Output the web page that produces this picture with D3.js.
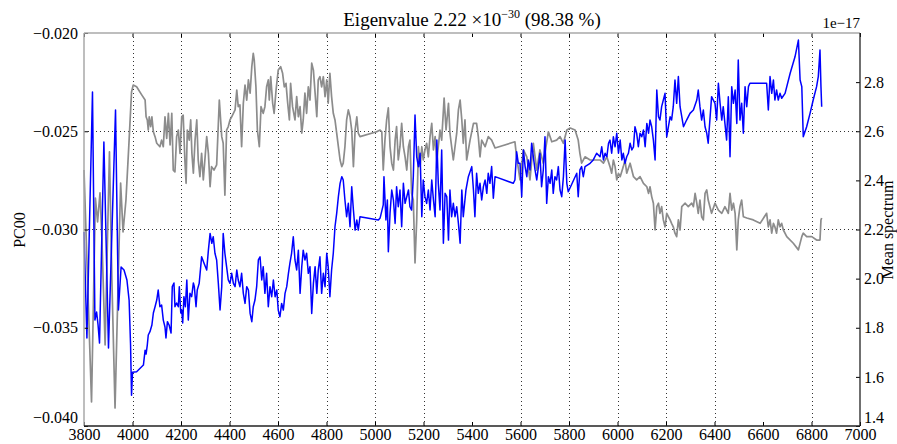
<!DOCTYPE html>
<html>
<head>
<meta charset="utf-8">
<script src="https://cdn.jsdelivr.net/npm/d3@7"></script>
<style>
  body { margin: 0; background: #fff; }
  svg { display: block; }
  text { font-family: "Liberation Serif", "DejaVu Serif", serif; fill: #000; }
</style>
</head>
<body>
<svg id="chart" width="897" height="444"></svg>
<script>
// Axis ticks and grid positions
const waveTicks = [3800, 4000, 4200, 4400, 4600, 4800, 5000, 5200, 5400, 5600, 5800, 6000, 6200, 6400, 6600, 6800, 7000];
const waveGrid = [4000, 4200, 4400, 4600, 4800, 5000, 5200, 5600, 5800, 6000, 6200, 6400, 6800];
const pcTicks = [-0.040, -0.035, -0.030, -0.025, -0.020];
const pcGrid = [-0.030, -0.025];
const meanTicks = [1.4, 1.6, 1.8, 2.0, 2.2, 2.4, 2.6, 2.8];

// Principal component PC00 against wavelength (Angstrom)
const pc00 = [
  [3800,-0.03013],[3812,-0.03552],[3835,-0.02300],[3845,-0.03461],[3852,-0.03420],[3858,-0.03486],[3864,-0.03578],
  [3882,-0.02555],[3901,-0.03603],[3930,-0.02392],[3942,-0.03410],[3953,-0.03191],[3965,-0.03206],[3977,-0.03257],
  [3986,-0.03359],[3992,-0.03588],[3996,-0.03843],[4000,-0.03726],
  [4017,-0.03724],[4045,-0.03690],[4052,-0.03614],[4056,-0.03634],[4061,-0.03588],[4065,-0.03537],[4072,-0.03520],
  [4080,-0.03486],[4086,-0.03425],[4093,-0.03393],[4100,-0.03359],[4106,-0.03308],[4113,-0.03393],[4120,-0.03384],
  [4127,-0.03461],[4134,-0.03496],[4138,-0.03552],[4144,-0.03469],[4151,-0.03486],[4159,-0.03527],[4164,-0.03291],
  [4171,-0.03272],[4175,-0.03393],[4182,-0.03374],[4189,-0.03393],[4193,-0.03291],[4199,-0.03425],[4203,-0.03410],
  [4207,-0.03476],[4212,-0.03342],[4218,-0.03393],[4224,-0.03257],[4230,-0.03461],[4237,-0.03325],[4244,-0.03342],
  [4251,-0.03272],[4255,-0.03291],[4262,-0.03393],[4267,-0.03308],[4275,-0.03274],[4285,-0.03139],[4295,-0.03172],
  [4306,-0.03206],[4313,-0.03105],[4320,-0.03020],[4327,-0.03070],[4333,-0.03037],[4340,-0.03121],[4347,-0.03155],
  [4354,-0.03274],[4361,-0.03410],[4368,-0.03291],[4374,-0.03020],[4381,-0.03121],[4388,-0.03189],[4395,-0.03257],
  [4402,-0.03274],[4409,-0.03223],[4416,-0.03274],[4423,-0.03291],[4430,-0.03206],[4436,-0.03257],[4443,-0.03291],
  [4450,-0.03223],[4457,-0.03325],[4464,-0.03376],[4471,-0.03291],[4478,-0.03308],[4485,-0.03427],[4492,-0.03469],
  [4498,-0.03393],[4505,-0.03359],[4512,-0.03291],[4519,-0.03155],[4526,-0.03139],[4533,-0.03257],[4539,-0.03189],
  [4546,-0.03325],[4553,-0.03223],[4560,-0.03393],[4567,-0.03291],[4574,-0.03342],[4581,-0.03257],[4588,-0.03342],
  [4595,-0.03308],[4601,-0.03410],[4608,-0.03444],[4615,-0.03376],[4622,-0.03410],[4629,-0.03325],[4636,-0.03291],
  [4643,-0.03223],[4649,-0.03172],[4656,-0.03121],[4663,-0.03037],[4670,-0.03155],[4677,-0.03206],[4684,-0.03105],
  [4691,-0.03325],[4698,-0.03189],[4704,-0.03105],[4711,-0.03155],[4718,-0.03121],[4725,-0.03223],[4732,-0.03189],
  [4739,-0.03427],[4746,-0.03274],[4753,-0.03189],[4760,-0.03325],[4766,-0.03206],[4773,-0.03139],[4780,-0.03325],
  [4787,-0.03223],[4794,-0.03291],[4801,-0.03121],[4807,-0.03189],[4814,-0.03342],[4821,-0.03206],[4828,-0.03121],
  [4835,-0.02986],[4842,-0.02918],[4849,-0.02833],[4856,-0.02765],[4863,-0.02731],[4869,-0.02748],[4876,-0.02850],
  [4883,-0.02935],[4890,-0.02867],[4897,-0.02986],[4904,-0.02782],[4911,-0.02901],[4918,-0.03003],[4925,-0.02952],
  [4931,-0.03003],[4938,-0.02935],
  [5014,-0.02952],[5021,-0.02942],[5034,-0.02875],[5037,-0.02731],[5045,-0.02952],[5051,-0.02850],[5055,-0.03113],
  [5062,-0.02916],[5069,-0.02799],[5076,-0.02850],[5083,-0.02969],[5089,-0.02782],[5096,-0.02884],[5103,-0.02799],
  [5110,-0.02986],[5117,-0.02765],[5124,-0.02867],[5131,-0.02833],[5138,-0.02799],[5144,-0.02884],[5151,-0.02901],
  [5158,-0.02731],[5165,-0.02417],[5172,-0.02630],[5179,-0.02680],[5186,-0.02612],[5193,-0.02935],[5199,-0.02748],
  [5206,-0.02833],[5213,-0.02867],[5220,-0.02799],[5227,-0.02901],[5234,-0.02748],[5241,-0.02850],[5248,-0.02935],
  [5255,-0.02545],[5261,-0.02765],[5268,-0.02901],[5275,-0.02595],[5282,-0.03070],[5289,-0.02816],[5296,-0.02833],
  [5303,-0.03054],[5309,-0.02799],[5316,-0.02935],[5323,-0.02867],[5330,-0.02935],[5337,-0.02884],[5344,-0.02969],
  [5351,-0.03070],[5358,-0.02799],[5364,-0.02935],[5375,-0.02799],[5385,-0.02731],[5399,-0.02680],[5406,-0.02799],
  [5412,-0.02935],[5419,-0.02714],[5426,-0.02816],[5433,-0.02765],[5440,-0.02850],[5447,-0.02782],[5454,-0.02748],
  [5461,-0.02816],[5467,-0.02714],[5474,-0.02765],[5481,-0.02680],[5488,-0.02841],[5495,-0.02731],
  [5570,-0.02765],[5577,-0.02748],[5584,-0.02604],[5591,-0.02663],[5598,-0.02663],[5605,-0.02833],[5612,-0.02595],
  [5619,-0.02680],[5626,-0.02731],[5632,-0.02646],[5639,-0.02697],[5646,-0.02561],[5653,-0.02630],[5660,-0.02697],
  [5667,-0.02748],[5674,-0.02680],[5680,-0.02612],[5687,-0.02782],[5694,-0.02697],[5701,-0.02528],[5708,-0.02867],
  [5715,-0.02731],[5722,-0.02765],[5729,-0.02697],[5735,-0.02816],[5742,-0.02731],[5749,-0.02748],[5756,-0.02680],
  [5763,-0.02799],[5770,-0.02833],[5777,-0.02731],[5784,-0.02545],[5791,-0.02765],[5797,-0.02808],
  [5832,-0.02714],[5838,-0.02833],[5845,-0.02697],[5852,-0.02680],[5859,-0.02731],[5866,-0.02680],[5887,-0.02663],
  [5900,-0.02646],[5914,-0.02612],[5928,-0.02630],[5935,-0.02579],[5942,-0.02646],[5949,-0.02612],[5956,-0.02630],
  [5963,-0.02561],[5969,-0.02545],[5976,-0.02612],[5983,-0.02528],[5990,-0.02579],[5997,-0.02510],[6004,-0.02612],
  [6011,-0.02545],[6018,-0.02646],[6024,-0.02612],[6031,-0.02663],[6038,-0.02630],[6045,-0.02612],[6052,-0.02561],
  [6059,-0.02595],[6066,-0.02579],[6072,-0.02477],[6079,-0.02510],[6086,-0.02579],[6093,-0.02510],[6100,-0.02528],
  [6107,-0.02494],[6114,-0.02579],[6121,-0.02460],[6128,-0.02510],[6134,-0.02443],[6141,-0.02477],[6148,-0.02545],
  [6155,-0.02646],[6162,-0.02290],[6169,-0.02426],[6175,-0.02443],[6182,-0.02375],[6189,-0.02341],[6196,-0.02307],
  [6203,-0.02528],[6210,-0.02477],[6217,-0.02426],[6223,-0.02443],[6230,-0.02375],[6237,-0.02239],[6244,-0.02358],
  [6251,-0.02222],[6258,-0.02375],[6272,-0.02477],[6285,-0.02443],[6299,-0.02409],[6313,-0.02392],[6327,-0.02341],
  [6333,-0.02290],[6340,-0.02375],[6347,-0.02443],[6354,-0.02392],[6361,-0.02477],[6368,-0.02510],[6374,-0.02561],
  [6381,-0.02443],[6388,-0.02324],[6395,-0.02341],[6402,-0.02358],[6409,-0.02443],[6416,-0.02256],[6423,-0.02358],
  [6430,-0.02443],[6436,-0.02375],[6443,-0.02460],[6450,-0.02545],[6457,-0.02324],[6464,-0.02630],[6471,-0.02273],
  [6478,-0.02358],[6485,-0.02290],[6492,-0.02460],[6498,-0.02137],[6505,-0.02443],[6512,-0.02358],[6519,-0.02510],
  [6526,-0.02273],[6533,-0.02375],[6540,-0.02273],[6546,-0.02256],
  [6615,-0.02256],[6622,-0.02392],[6629,-0.02222],[6636,-0.02307],[6643,-0.02239],[6649,-0.02341],[6656,-0.02290],
  [6663,-0.02341],[6670,-0.02307],[6677,-0.02332],[6691,-0.02307],[6712,-0.02205],[6732,-0.02121],[6746,-0.02036],
  [6753,-0.02239],[6760,-0.02273],[6766,-0.02528],[6780,-0.02477],[6794,-0.02409],[6807,-0.02341],[6821,-0.02273],
  [6828,-0.02222],[6835,-0.02087],[6839,-0.02273],[6842,-0.02375]
];

// Mean spectrum (units of 1e-17) against wavelength
const meanSpectrum = [
  [3800,2.442],[3831,1.498],[3847,2.328],[3856,2.231],[3866,2.349],[3874,2.157],[3887,1.730],[3905,2.516],
  [3915,1.994],[3928,1.473],[3951,2.389],[3961,2.190],[3973,2.320],[3986,2.564],[3996,2.760],[4003,2.788],
  [4017,2.781],[4038,2.748],[4052,2.727],[4056,2.659],[4061,2.646],[4065,2.605],[4069,2.659],[4075,2.619],
  [4080,2.659],[4086,2.598],[4093,2.578],[4100,2.551],[4113,2.537],[4120,2.564],[4127,2.537],[4134,2.659],
  [4141,2.571],[4148,2.673],[4155,2.544],[4162,2.673],[4168,2.442],[4175,2.435],[4182,2.578],[4189,2.605],
  [4196,2.510],[4203,2.659],[4209,2.666],[4216,2.483],[4221,2.388],[4226,2.605],[4234,2.564],[4240,2.646],
  [4245,2.510],[4251,2.429],[4258,2.564],[4265,2.646],[4271,2.483],[4278,2.415],[4285,2.510],[4292,2.402],
  [4306,2.578],[4313,2.510],[4320,2.374],[4326,2.456],[4336,2.442],[4347,2.463],[4358,2.727],[4368,2.578],
  [4374,2.551],[4381,2.340],[4388,2.605],[4395,2.619],[4402,2.646],[4409,2.659],[4416,2.673],[4423,2.687],
  [4430,2.768],[4436,2.700],[4443,2.707],[4450,2.537],[4457,2.714],[4464,2.788],[4471,2.727],[4478,2.809],
  [4485,2.755],[4492,2.863],[4498,2.917],[4502,2.890],[4509,2.781],[4515,2.605],[4523,2.537],[4530,2.700],
  [4539,2.673],[4546,2.700],[4553,2.781],[4560,2.809],[4564,2.727],[4570,2.822],[4578,2.714],[4584,2.673],
  [4592,2.768],[4601,2.849],[4611,2.863],[4619,2.836],[4626,2.781],[4633,2.795],[4640,2.714],[4647,2.646],
  [4652,2.795],[4660,2.700],[4670,2.646],[4677,2.741],[4684,2.659],[4691,2.700],[4698,2.592],[4704,2.646],
  [4711,2.755],[4718,2.673],[4725,2.781],[4732,2.727],[4739,2.877],[4746,2.849],[4753,2.755],[4760,2.659],
  [4766,2.809],[4773,2.822],[4780,2.781],[4787,2.822],[4794,2.741],[4801,2.809],[4807,2.714],[4814,2.836],
  [4821,2.741],[4828,2.673],[4835,2.646],[4842,2.592],[4849,2.537],[4856,2.483],[4863,2.456],[4869,2.470],
  [4876,2.537],[4883,2.646],[4890,2.687],[4897,2.659],[4904,2.605],[4911,2.456],[4918,2.605],[4925,2.659],
  [4931,2.592],[4938,2.578],
  [5007,2.598],[5021,2.605],[5028,2.598],[5034,2.442],[5041,2.564],[5048,2.646],[5055,2.695],[5062,2.537],
  [5069,2.470],[5076,2.442],[5083,2.564],[5089,2.619],[5096,2.483],[5103,2.537],[5110,2.632],[5117,2.537],
  [5124,2.496],[5131,2.442],[5138,2.537],[5144,2.564],[5151,2.347],[5158,2.320],[5165,2.064],[5172,2.239],
  [5179,2.537],[5186,2.456],[5193,2.537],[5199,2.483],[5206,2.524],[5213,2.551],[5220,2.496],[5227,2.578],
  [5234,2.632],[5241,2.524],[5248,2.578],[5255,2.483],[5261,2.537],[5268,2.605],[5275,2.564],[5285,2.735],
  [5293,2.605],[5303,2.714],[5309,2.592],[5323,2.483],[5337,2.592],[5344,2.687],[5351,2.727],[5358,2.646],
  [5364,2.551],[5371,2.646],[5378,2.483],[5392,2.564],[5406,2.632],[5419,2.632],[5426,2.578],[5433,2.496],
  [5440,2.564],[5454,2.537],[5467,2.578],[5481,2.564],[5495,2.532],
  [5577,2.557],[5584,2.496],[5598,2.402],[5612,2.524],[5626,2.496],[5639,2.402],[5653,2.551],[5667,2.442],
  [5680,2.524],[5694,2.470],[5715,2.598],[5729,2.557],[5749,2.564],[5763,2.578],[5777,2.551],[5791,2.605],
  [5805,2.613],[5825,2.605],[5838,2.564],[5845,2.510],[5852,2.470],[5866,2.496],[5887,2.483],[5907,2.483],
  [5928,2.483],[5942,2.470],[5956,2.496],[5969,2.456],[5976,2.429],[5983,2.483],[5990,2.456],[5997,2.402],
  [6004,2.429],[6011,2.415],[6024,2.456],[6031,2.483],[6038,2.429],[6052,2.470],[6066,2.415],[6079,2.402],
  [6093,2.415],[6107,2.388],[6121,2.374],[6128,2.347],[6134,2.374],[6141,2.334],[6148,2.307],[6155,2.198],
  [6162,2.293],[6169,2.307],[6175,2.266],[6182,2.293],[6189,2.239],[6196,2.211],[6203,2.266],[6210,2.252],
  [6217,2.239],[6223,2.225],[6230,2.211],[6237,2.185],[6244,2.171],[6251,2.239],[6258,2.198],[6265,2.293],
  [6279,2.307],[6292,2.293],[6306,2.307],[6313,2.293],[6320,2.347],[6327,2.307],[6333,2.266],[6340,2.320],
  [6347,2.252],[6354,2.239],[6361,2.347],[6368,2.361],[6374,2.320],[6388,2.266],[6402,2.307],[6416,2.279],
  [6430,2.266],[6443,2.293],[6457,2.266],[6464,2.347],[6471,2.279],[6478,2.307],[6485,2.266],[6492,2.117],
  [6498,2.239],[6505,2.293],[6512,2.320],[6519,2.252],[6533,2.247],[6560,2.239],[6588,2.225],[6615,2.266],
  [6622,2.211],[6629,2.239],[6636,2.185],[6643,2.225],[6649,2.211],[6656,2.185],[6663,2.239],[6670,2.211],
  [6677,2.225],[6684,2.198],[6698,2.171],[6725,2.144],[6746,2.117],[6760,2.171],[6766,2.185],[6780,2.171],
  [6801,2.171],[6821,2.157],[6835,2.157],[6839,2.239],[6842,2.247]
];

const svg = d3.select("#chart");
const plotLeft = 84, plotRight = 860, plotTop = 33, plotBottom = 426;

const x = d3.scaleLinear().domain([3800, 7000]).range([plotLeft, plotRight]);
const yPC = d3.scaleLinear().domain([-0.040, -0.020]).range([plotBottom, plotTop]);
const yMean = d3.scaleLinear().domain([1.4, 3.0]).range([plotBottom, plotTop]);

svg.append("rect").attr("width", 897).attr("height", 444).attr("fill", "#fff");

// Dotted grid
const grid = svg.append("g").attr("stroke", "#000").attr("stroke-width", 1)
  .attr("stroke-dasharray", "1,3").attr("opacity", 0.8);
grid.selectAll("line.v").data(waveGrid).join("line").attr("class", "v")
  .attr("x1", d => Math.round(x(d)) + 0.5).attr("x2", d => Math.round(x(d)) + 0.5)
  .attr("y1", plotTop).attr("y2", plotBottom);
grid.selectAll("line.h").data(pcGrid).join("line").attr("class", "h")
  .attr("y1", d => Math.round(yPC(d)) + 0.5).attr("y2", d => Math.round(yPC(d)) + 0.5)
  .attr("x1", plotLeft).attr("x2", plotRight);

// Series
const meanLine = d3.line().x(d => x(d[0])).y(d => yMean(d[1]));
const pcLine = d3.line().x(d => x(d[0])).y(d => yPC(d[1]));

svg.append("path").datum(meanSpectrum).attr("d", meanLine)
  .attr("fill", "none").attr("stroke", "#8c8c8c").attr("stroke-width", 1.7)
  .attr("stroke-linejoin", "round");
svg.append("path").datum(pc00).attr("d", pcLine)
  .attr("fill", "none").attr("stroke", "#0000ff").attr("stroke-width", 1.5)
  .attr("stroke-linejoin", "round");

// Axes with inward ticks
function styleAxis(g) {
  g.select(".domain").remove();
  g.selectAll(".tick line").attr("stroke", "#000").attr("stroke-width", 1);
  g.selectAll(".tick text").attr("font-family", "Liberation Serif, DejaVu Serif, serif")
    .attr("font-size", 16).attr("fill", "#000");
}

svg.append("g").attr("transform", `translate(0,${plotBottom})`)
  .call(d3.axisBottom(x).tickValues(waveTicks).tickFormat(d3.format("d"))
    .tickSizeInner(-4).tickSizeOuter(0).tickPadding(3))
  .call(styleAxis);

svg.append("g").attr("transform", `translate(0,${plotTop})`)
  .call(d3.axisTop(x).tickValues(waveTicks).tickFormat("")
    .tickSizeInner(-4).tickSizeOuter(0))
  .call(styleAxis);

const leftAxis = svg.append("g").attr("transform", `translate(${plotLeft},0)`)
  .call(d3.axisLeft(yPC).tickValues(pcTicks).tickFormat(d3.format(".3f"))
    .tickSizeInner(-4).tickSizeOuter(0).tickPadding(6))
  .call(styleAxis);

const rightAxis = svg.append("g").attr("transform", `translate(${plotRight},0)`)
  .call(d3.axisRight(yMean).tickValues(meanTicks).tickFormat(d3.format(".1f"))
    .tickSizeInner(-4).tickSizeOuter(0).tickPadding(4))
  .call(styleAxis);

// The lowest labels on both vertical axes sit higher, clear of the wavelength labels
leftAxis.selectAll(".tick text").filter(d => d === -0.040).attr("dy", "-0.25em");
rightAxis.selectAll(".tick text").filter(d => d === 1.4).attr("dy", "-0.25em");

// Frame
svg.append("line").attr("x1", plotLeft).attr("x2", plotRight).attr("y1", plotTop).attr("y2", plotTop)
  .attr("stroke", "#a8a8a8").attr("stroke-width", 1.5);
svg.append("line").attr("x1", plotLeft).attr("x2", plotLeft).attr("y1", plotTop).attr("y2", plotBottom)
  .attr("stroke", "#a8a8a8").attr("stroke-width", 1.5);
svg.append("line").attr("x1", plotLeft).attr("x2", plotRight).attr("y1", plotBottom).attr("y2", plotBottom)
  .attr("stroke", "#222").attr("stroke-width", 1.3);
svg.append("line").attr("x1", plotRight).attr("x2", plotRight).attr("y1", plotTop).attr("y2", plotBottom)
  .attr("stroke", "#222").attr("stroke-width", 1.3);

// Title
const title = svg.append("text").attr("x", (plotLeft + plotRight) / 2).attr("y", 26)
  .attr("text-anchor", "middle").attr("font-size", 19);
title.append("tspan").text("Eigenvalue 2.22 \u00d710");
title.append("tspan").attr("dy", -8).attr("font-size", 12).text("\u221230");
title.append("tspan").attr("dy", 8).text(" (98.38 %)");

// Offset label of the right axis
svg.append("text").attr("x", plotRight).attr("y", 28).attr("text-anchor", "end")
  .attr("font-size", 15).text("1e\u221217");

// Axis labels
svg.append("text").attr("transform", "translate(25,230) rotate(-90)")
  .attr("text-anchor", "middle").attr("font-size", 16).text("PC00");
svg.append("text").attr("transform", "translate(893,230) rotate(-90)")
  .attr("text-anchor", "middle").attr("font-size", 16).text("Mean spectrum");
</script>
</body>
</html>
